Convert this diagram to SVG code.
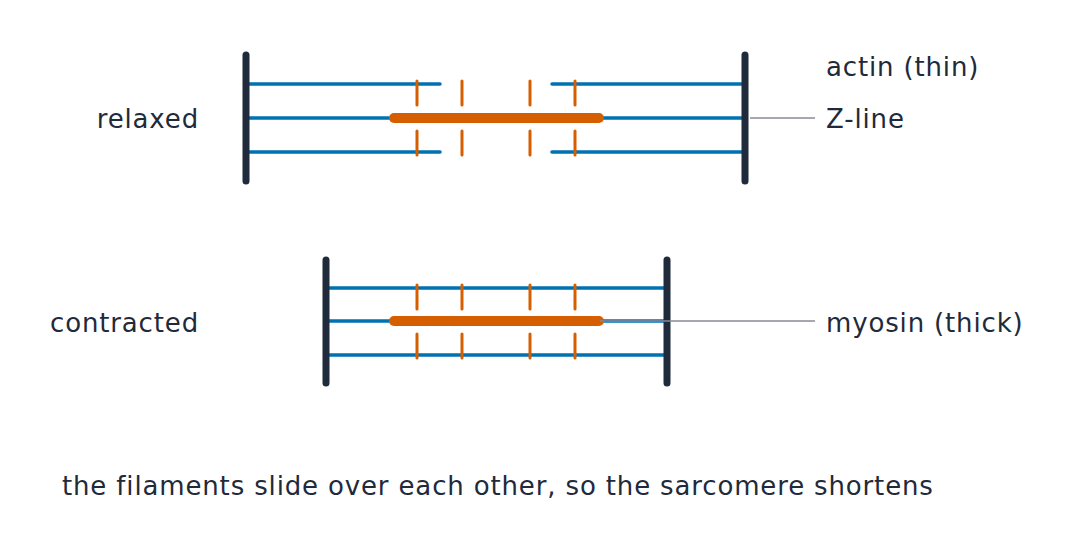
<svg xmlns="http://www.w3.org/2000/svg" width="1074" height="550" viewBox="0 0 1074 550">
<style>
text{font-family:"DejaVu Sans",sans-serif;font-size:26px;letter-spacing:0.85px;fill:#1f2a3a}
.z{stroke:#1f2a3a;stroke-width:7;stroke-linecap:round}
.a{stroke:#0072b2;stroke-width:3.5;stroke-linecap:round}
.m{stroke:#d55e00;stroke-width:10;stroke-linecap:round}
.t{stroke:#d55e00;stroke-width:3;stroke-linecap:round}
.l{stroke:#888a96;stroke-width:1.5}
</style>
<rect width="1074" height="550" fill="#fff"/>
<g id="relaxed">
<line class="a" x1="246" y1="84" x2="440" y2="84"/><line class="a" x1="552" y1="84" x2="745" y2="84"/>
<line class="a" x1="246" y1="118" x2="745" y2="118"/>
<line class="a" x1="246" y1="152" x2="440" y2="152"/><line class="a" x1="552" y1="152" x2="745" y2="152"/>
<line class="m" x1="394" y1="118" x2="599" y2="118"/>
<path class="t" d="M417 81V105M417 131V155M462 81V105M462 131V155M530 81V105M530 131V155M575 81V105M575 131V155"/>
<line class="z" x1="246" y1="55" x2="246" y2="181"/><line class="z" x1="745" y1="55" x2="745" y2="181"/>
</g>
<g id="contracted">
<line class="a" x1="326" y1="288" x2="667" y2="288"/>
<line class="a" x1="326" y1="321" x2="667" y2="321"/>
<line class="a" x1="326" y1="355" x2="667" y2="355"/>
<line class="m" x1="394" y1="321" x2="599" y2="321"/>
<path class="t" d="M417 285V309M417 334V358M462 285V309M462 334V358M530 285V309M530 334V358M575 285V309M575 334V358"/>
<line class="z" x1="326" y1="260" x2="326" y2="383"/><line class="z" x1="667" y1="260" x2="667" y2="383"/>
</g>
<g id="connectors">
<line class="l" x1="750" y1="118" x2="815" y2="118"/>
<line class="l" x1="600" y1="321" x2="815" y2="321"/>
</g>
<g id="labels">
<text x="199" y="128" text-anchor="end">relaxed</text>
<text x="199" y="332" text-anchor="end">contracted</text>
<text x="826" y="76">actin (thin)</text>
<text x="826" y="128">Z-line</text>
<text x="826" y="332">myosin (thick)</text>
<text x="62" y="495">the filaments slide over each other, so the sarcomere shortens</text>
</g>
</svg>
